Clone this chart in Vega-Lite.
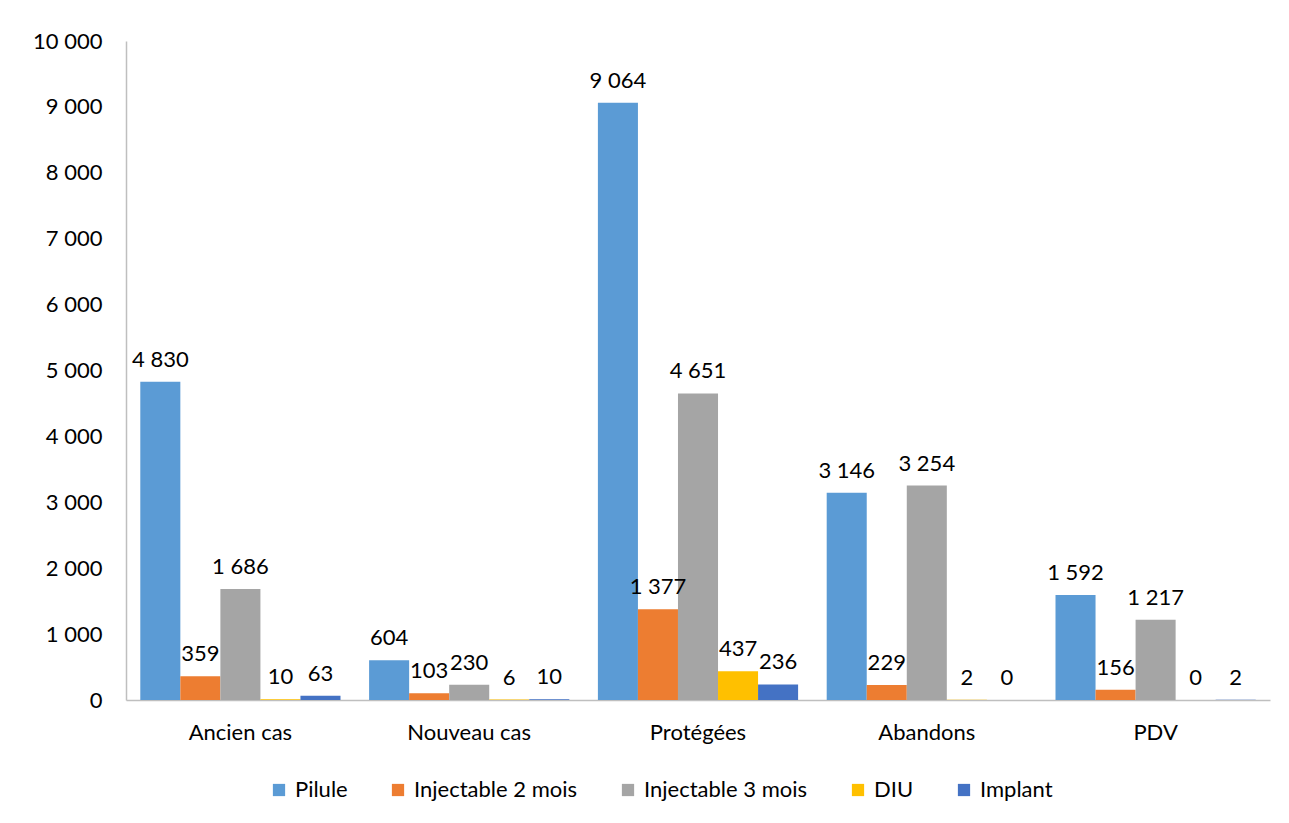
{
  "$schema": "https://vega.github.io/schema/vega-lite/v6.json",
  "autosize": "none",
  "width": 1144,
  "height": 659,
  "padding": {"left": 126, "top": 41, "right": 19, "bottom": 123},
  "background": "white",
  "config": {
    "font": "Lato",
    "view": {"stroke": null},
    "locale": {"number": {"decimal": ",", "thousands": " ", "grouping": [3], "currency": ["", " €"]}}
  },
  "data": {
    "values": [
      {"cat": "Ancien cas", "method": "Pilule", "value": 4830},
      {"cat": "Ancien cas", "method": "Injectable 2 mois", "value": 359},
      {"cat": "Ancien cas", "method": "Injectable 3 mois", "value": 1686},
      {"cat": "Ancien cas", "method": "DIU", "value": 10},
      {"cat": "Ancien cas", "method": "Implant", "value": 63},
      {"cat": "Nouveau cas", "method": "Pilule", "value": 604},
      {"cat": "Nouveau cas", "method": "Injectable 2 mois", "value": 103},
      {"cat": "Nouveau cas", "method": "Injectable 3 mois", "value": 230},
      {"cat": "Nouveau cas", "method": "DIU", "value": 6},
      {"cat": "Nouveau cas", "method": "Implant", "value": 10},
      {"cat": "Protégées", "method": "Pilule", "value": 9064},
      {"cat": "Protégées", "method": "Injectable 2 mois", "value": 1377},
      {"cat": "Protégées", "method": "Injectable 3 mois", "value": 4651},
      {"cat": "Protégées", "method": "DIU", "value": 437},
      {"cat": "Protégées", "method": "Implant", "value": 236},
      {"cat": "Abandons", "method": "Pilule", "value": 3146},
      {"cat": "Abandons", "method": "Injectable 2 mois", "value": 229},
      {"cat": "Abandons", "method": "Injectable 3 mois", "value": 3254},
      {"cat": "Abandons", "method": "DIU", "value": 2},
      {"cat": "Abandons", "method": "Implant", "value": 0},
      {"cat": "PDV", "method": "Pilule", "value": 1592},
      {"cat": "PDV", "method": "Injectable 2 mois", "value": 156},
      {"cat": "PDV", "method": "Injectable 3 mois", "value": 1217},
      {"cat": "PDV", "method": "DIU", "value": 0},
      {"cat": "PDV", "method": "Implant", "value": 2}
    ]
  },
  "encoding": {
    "x": {
      "field": "cat", "type": "nominal",
      "sort": ["Ancien cas", "Nouveau cas", "Protégées", "Abandons", "PDV"],
      "scale": {"paddingInner": 0.125, "paddingOuter": 0.0625},
      "axis": {"title": null, "labelAngle": 0, "labelFontSize": 22, "labelColor": "#000000", "labelPadding": 22, "ticks": false, "domainColor": "#BFBFBF", "domainWidth": 1.5}
    },
    "xOffset": {
      "field": "method", "type": "nominal",
      "sort": ["Pilule", "Injectable 2 mois", "Injectable 3 mois", "DIU", "Implant"],
      "scale": {"paddingInner": 0, "paddingOuter": 0}
    },
    "y": {
      "field": "value", "type": "quantitative",
      "scale": {"domain": [0, 10000], "nice": false},
      "axis": {"title": null, "values": [0,1000,2000,3000,4000,5000,6000,7000,8000,9000,10000], "format": ",d", "labelFontSize": 22, "labelColor": "#000000", "labelPadding": 24, "ticks": false, "grid": false, "domainColor": "#BFBFBF", "domainWidth": 1.5}
    }
  },
  "layer": [
    {
      "mark": {"type": "bar"},
      "encoding": {
        "color": {
          "field": "method", "type": "nominal",
          "scale": {
            "domain": ["Pilule", "Injectable 2 mois", "Injectable 3 mois", "DIU", "Implant"],
            "range": ["#5B9BD5", "#ED7D31", "#A5A5A5", "#FFC000", "#4472C4"]
          },
          "legend": {"title": null, "orient": "none", "legendX": 142, "legendY": 738, "direction": "horizontal", "symbolType": "square", "symbolSize": 150, "symbolStrokeWidth": 0, "labelFontSize": 22, "labelColor": "#000000", "labelLimit": 0, "columnPadding": 39, "labelOffset": 5}
        }
      }
    },
    {
      "mark": {"type": "text", "fontSize": 22, "baseline": "alphabetic", "dy": -15, "color": "#000000"},
      "encoding": {
        "text": {"field": "value", "type": "quantitative", "format": ",d"}
      }
    }
  ]
}
